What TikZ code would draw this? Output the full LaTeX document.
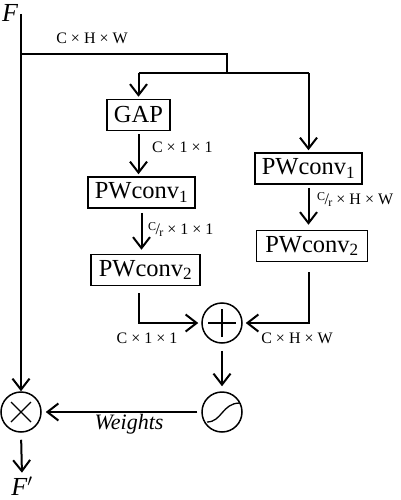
\documentclass[tikz,border=0pt]{standalone}
\usepackage{fontspec}
\setmainfont{Liberation Serif}
\usetikzlibrary{arrows.meta}
\newcommand{\Cr}{\raisebox{3.5pt}{\fontsize{12}{12}\selectfont C}\kern-0.5pt/\kern-0.5pt\raisebox{-2.5pt}{\fontsize{12}{12}\selectfont r}}
\begin{document}
\begin{tikzpicture}[x=1pt,y=-1pt,
  line width=2pt,
  arr/.style={-{Straight Barb[length=11pt,width=17pt,line width=2pt]}},
  box/.style={draw,line width=1.5pt,inner sep=0pt,minimum height=31pt,font=\fontsize{24.5}{24.5}\selectfont},
  lab/.style={font=\fontsize{16}{16}\selectfont,inner sep=1pt},
  big/.style={font=\fontsize{26}{26}\selectfont\itshape,inner sep=0pt},
  circ/.style={draw,circle,minimum size=40pt,inner sep=0pt,line width=1.5pt}]
\useasboundingbox (0,0) rectangle (401,500);

% nodes
\node[big] (F) at (10,12.5) {F};
\node[big] (Fp) at (22,486) {F$'$};
\node[box,minimum width=63pt] (gap) at (138.5,115) {GAP};
\node[box,minimum width=107pt] (pw1a) at (141.5,192.5) {PWconv\textsubscript{1}};
\node[box,minimum width=109pt] (pw2a) at (145.5,270) {PWconv\textsubscript{2}};
\node[box,minimum width=107pt] (pw1b) at (308.5,168.5) {PWconv\textsubscript{1}};
\node[box,minimum width=111pt] (pw2b) at (312,246) {PWconv\textsubscript{2}};
\node[circ] (add) at (222,323) {};
\node[circ] (sig) at (222,412) {};
\node[circ] (mul) at (21,412) {};

% symbols inside circles
\draw[line width=1.3pt] ([yshift=-14pt]add.center) -- ([yshift=14pt]add.center)
  ([xshift=-14pt]add.center) -- ([xshift=14pt]add.center);
\draw[line width=1.3pt] ([shift={(-10,-10)}]mul.center) -- ([shift={(10,10)}]mul.center)
  ([shift={(-10,10)}]mul.center) -- ([shift={(10,-10)}]mul.center);
\draw[line width=1.3pt] ([shift={(-15,10)}]sig.center) .. controls ([shift={(0,10)}]sig.center) and ([shift={(0,-9)}]sig.center) .. ([shift={(18,-9)}]sig.center);

% coordinates
\coordinate (in) at (21,14);
\coordinate (b1) at (21,54);
\coordinate (b2) at (227,73);
\coordinate (sl) at (138.5,73);
\coordinate (sr) at (308.5,73);

% connectors
\draw[arr] (in) -- (mul.north);
\draw (b1) -| (b2);
\draw (sl) -- (sr);
\draw[arr,shorten >=2pt] (sl) -- (gap.north);
\draw[arr,shorten >=2pt] (sr) -- (pw1b.north);
\draw[arr,shorten <=3pt,shorten >=2pt] (gap.south) -- (gap.south |- pw1a.north);
\draw[arr,shorten <=4pt,shorten >=4pt] (pw1a.south) -- (pw1a.south |- pw2a.north);
\draw[arr,shorten <=3pt,shorten >=5pt] (pw1b.south) -- (pw1b.south |- pw2b.north);
\draw[arr,shorten <=7pt,shorten >=3pt] (pw2a.south -| gap) |- (add.west);
\draw[arr,shorten <=10pt,shorten >=3pt] (pw2b.south -| pw1b) |- (add.east);
\draw[arr,shorten <=7pt,shorten >=5pt] (add.south) -- (sig.north);
\draw[arr,shorten <=4pt,shorten >=4pt] (sig.west) -- (mul.east);
\draw[arr,shorten <=7pt,shorten >=3pt] (mul.south) -- (Fp.north);

% labels
\node[lab] (l1) at (92,38) {C × H × W};
\node[lab,anchor=west] (l2) at (150,147) {C × 1 × 1};
\node[lab,anchor=west] (l3) at (146,230) {\Cr{} × 1 × 1};
\node[lab,anchor=west] (l4) at (315,200) {\Cr{} × H × W};
\node[lab] (l5) at (147,338) {C × 1 × 1};
\node[lab] (l6) at (297,338) {C × H × W};
\node[font=\fontsize{22}{22}\selectfont\itshape,inner sep=0pt] (w) at (129,424) {Weights};
\end{tikzpicture}
\end{document}
